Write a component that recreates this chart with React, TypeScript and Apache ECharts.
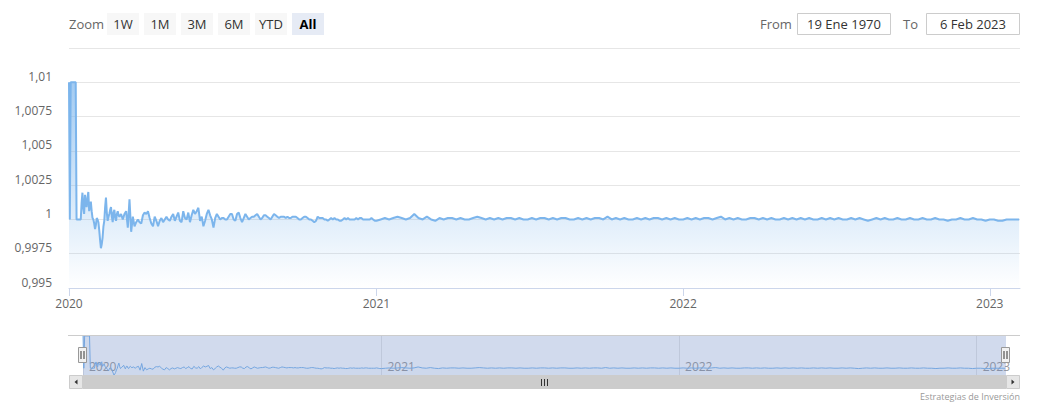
import React, { useEffect, useRef } from 'react';
import * as echarts from 'echarts';

const DAY = 86400000;
const X_MIN = Date.UTC(2020, 0, 1);
const X_MAX = Date.UTC(2023, 1, 6);

// Daily values, 1 Jan 2020 – 29 Feb 2020
const START_DAILY = Date.UTC(2020, 0, 1);
const dailyEarly2020 = [
  1.01, 1.0, 1.01, 1.01, 1.01, 1.01, 1.01, 1.01, 1.01, 1.0,
  1.0, 1.0, 1.0, 1.0, 1.0, 1.0012, 1.00195, 1.0008, 1.0004, 1.0018,
  1.0012, 1.0009, 1.0016, 1.002, 1.0006, 1.001, 1.0013, 1.0006, 1.0001, 1.0,
  0.9997, 0.9993, 0.9996, 1.0001, 1.0, 0.9998, 0.9992, 0.9985, 0.9979, 0.9982,
  0.9987, 0.9995, 0.9999, 1.0009, 1.0016, 1.0005, 0.9999, 1.0002, 1.0004, 1.0007,
  1.0009, 1.0002, 0.9998, 1.0005, 1.0007, 1.0001, 0.9999, 1.0004, 1.0006, 1.0003,
];

// Values every 2 days, 1 Mar 2020 – 30 Dec 2020
const START_TWO_DAY = Date.UTC(2020, 2, 1);
const twoDay2020 = [
  1.0002, 1.0004, 1.0, 1.0004, 1.0006, 0.9994, 1.00146, 0.9991, 1.0002, 0.9995,
  0.9998, 1.0, 0.9998, 0.9997, 1.0003, 1.0005, 1.0004, 1.0006, 1.0001, 0.9997,
  0.9995, 1.0002, 0.9999, 0.9995, 0.9999, 1.0001, 0.9998, 1.0, 1.0002, 1.0,
  0.9999, 1.0002, 1.0004, 0.9999, 1.0002, 1.0005, 0.9999, 0.9998, 1.0006, 1.0001,
  1.0, 1.0005, 0.9998, 1.0003, 1.0007, 1.0004, 1.0006, 1.00085, 0.9999, 1.0002,
  0.9995, 0.9999, 1.0004, 1.0007, 1.0003, 1.0, 0.9994, 1.0001, 1.0004, 1.0002,
  1.0, 1.0001, 1.0001, 1.0, 1.0, 1.0002, 1.0004, 1.0004, 1.0, 0.9999,
  1.0004, 1.0005, 1.0001, 0.9998, 1.0001, 1.0004, 1.0002, 1.0, 1.0001, 1.0002,
  1.0002, 1.0003, 1.0004, 1.0002, 1.0, 1.0001, 1.0003, 1.0003, 1.0002, 1.0001,
  1.0, 1.0002, 1.0004, 1.0003, 1.0002, 1.0001, 1.0002, 1.0002, 1.0002, 1.0001,
  1.0002, 1.0001, 1.0001, 1.0002, 1.0002, 1.0002, 1.0001, 1.0, 1.0, 1.0001,
  1.0002, 1.0002, 1.0001, 1.0, 1.0, 0.9999, 0.9998, 0.9999, 1.0002, 1.0001,
  1.0001, 1.0001, 1.0, 1.0, 0.9999, 1.0, 1.0001, 1.0, 1.0001, 1.0,
  1.0, 0.9999, 0.9999, 1.0, 1.0001, 1.0, 1.0001, 1.0, 1.0, 1.0,
  1.0, 1.0001, 1.0, 1.0001, 1.0001, 1.0, 1.0, 1.0, 1.0, 1.0,
  1.0001, 1.0, 0.9999,
];

// Values every 5 days, 1 Jan 2021 – 5 Feb 2023
const START_FIVE_DAY = Date.UTC(2021, 0, 1);
const fiveDay2021to2023 = [
  0.9999, 1.0, 1.0001, 1.0, 1.0001, 1.0002, 1.0001, 1.0, 1.0001, 1.0004,
  1.0001, 1.0, 1.0002, 1.0, 0.9999, 1.0001, 1.0, 1.0001, 1.0001, 1.0,
  1.0001, 1.0, 1.0, 1.0001, 1.0002, 1.0001, 1.0, 1.0001, 1.0, 1.0001,
  1.0, 1.0001, 1.0001, 1.0, 1.0001, 1.0, 1.0, 1.0001, 1.0, 1.0001,
  1.0001, 1.0, 1.0001, 1.0, 1.0001, 1.0001, 1.0, 1.0, 1.0001, 1.0,
  1.0001, 1.0, 1.0001, 1.0001, 1.0, 1.0002, 1.0, 1.0001, 1.0, 1.0001,
  1.0, 1.0, 1.0001, 1.0, 1.0001, 1.0, 1.0001, 1.0001, 1.0, 1.0001,
  1.0, 1.0001, 1.0, 1.0, 1.0001, 1.0, 1.0001, 1.0, 1.0001, 1.0001,
  1.0, 1.0001, 1.0002, 1.0, 1.0001, 1.0, 1.0001, 1.0, 1.0, 1.0001,
  1.0001, 1.0, 1.0001, 1.0, 1.0001, 1.0, 1.0, 1.0001, 1.0, 1.0001,
  1.0, 1.0001, 1.0, 1.0001, 1.0, 1.0, 1.0001, 1.0, 1.0001, 1.0,
  1.0001, 1.0, 1.0, 1.0001, 1.0, 1.0001, 1.0, 0.9999, 1.0, 1.0001,
  1.0, 1.0001, 1.0, 1.0, 1.0001, 1.0, 1.0, 1.0001, 1.0, 1.0,
  1.0001, 1.0, 1.0, 1.0001, 1.0, 1.0, 0.9999, 1.0, 1.0, 1.0001,
  1.0, 1.0, 1.0001, 1.0, 1.0, 0.9999, 1.0, 1.0, 0.9999, 0.9999,
  1.0, 1.0, 1.0, 1.0,
];

const yearTicks = [2020, 2021, 2022, 2023];
const rangeButtons = ['1W', '1M', '3M', '6M', 'YTD', 'All'];
const selectedButton = 'All';
const zoomLabel = 'Zoom';
const fromLabel = 'From';
const toLabel = 'To';
const fromDate = '19 Ene 1970';
const toDate = '6 Feb 2023';
const creditText = 'Estrategias de Inversión';

const FONT = '"Open Sans", sans-serif';
const LINE_COLOR = '#7cb5ec';

function buildPoints(): [number, number][] {
  return [
    ...dailyEarly2020.map((v, i) => [START_DAILY + i * DAY, v] as [number, number]),
    ...twoDay2020.map((v, i) => [START_TWO_DAY + i * 2 * DAY, v] as [number, number]),
    ...fiveDay2021to2023.map((v, i) => [START_FIVE_DAY + i * 5 * DAY, v] as [number, number]),
  ];
}

function fmtY(v: number): string {
  return String(parseFloat(v.toFixed(4))).replace('.', ',');
}

function buildGraphic(): any[] {
  const els: any[] = [];
  const txt = (text: string, x: number, y: number, opts: any = {}) => ({
    type: 'text',
    x,
    y,
    z: opts.z ?? 20,
    style: {
      text,
      fill: opts.fill ?? '#666666',
      font: `${opts.weight ?? 'normal'} ${opts.size ?? 13}px ${FONT}`,
      textAlign: opts.align ?? 'left',
      textVerticalAlign: 'middle',
    },
  });
  els.push(txt(zoomLabel, 69, 24));
  rangeButtons.forEach((b, i) => {
    const x = 107 + i * 37;
    const sel = b === selectedButton;
    els.push({
      type: 'rect',
      z: 20,
      shape: { x, y: 13, width: 32, height: 22 },
      style: { fill: sel ? '#e6ebf5' : '#f7f7f7' },
    });
    els.push(txt(b, x + 16, 24, { fill: sel ? '#000000' : '#333333', align: 'center', weight: sel ? 'bold' : 'normal' }));
  });
  els.push(txt(fromLabel, 760, 24));
  els.push({
    type: 'rect', z: 20,
    shape: { x: 797.5, y: 13.5, width: 93, height: 21 },
    style: { fill: '#ffffff', stroke: '#cccccc', lineWidth: 1 },
  });
  els.push(txt(fromDate, 844, 24, { fill: '#333333', align: 'center' }));
  els.push(txt(toLabel, 903, 24));
  els.push({
    type: 'rect', z: 20,
    shape: { x: 926.5, y: 13.5, width: 93, height: 21 },
    style: { fill: '#ffffff', stroke: '#cccccc', lineWidth: 1 },
  });
  els.push(txt(toDate, 973, 24, { fill: '#333333', align: 'center' }));

  // navigator outline and mask
  els.push({
    type: 'line', z: 30,
    shape: { x1: 68, y1: 335.5, x2: 1020, y2: 335.5 },
    style: { stroke: '#cccccc', lineWidth: 1 },
  });
  els.push({
    type: 'rect', z: 25,
    shape: { x: 83, y: 336, width: 923, height: 39 },
    style: { fill: 'rgba(102,133,194,0.3)' },
  });
  // handles
  [82.5, 1005.5].forEach((cx) => {
    els.push({
      type: 'rect', z: 31,
      shape: { x: cx - 4, y: 347.5, width: 8, height: 15 },
      style: { fill: '#f2f2f2', stroke: '#999999', lineWidth: 1 },
    });
    els.push({ type: 'line', z: 32, shape: { x1: cx - 1.5, y1: 351, x2: cx - 1.5, y2: 359 }, style: { stroke: '#333333', lineWidth: 1 } });
    els.push({ type: 'line', z: 32, shape: { x1: cx + 1.5, y1: 351, x2: cx + 1.5, y2: 359 }, style: { stroke: '#333333', lineWidth: 1 } });
  });
  // scrollbar
  els.push({
    type: 'rect', z: 20,
    shape: { x: 69, y: 375, width: 951, height: 14 },
    style: { fill: '#f2f2f2' },
  });
  els.push({
    type: 'rect', z: 21,
    shape: { x: 83, y: 375, width: 923, height: 14 },
    style: { fill: '#cccccc' },
  });
  [541.5, 544.5, 547.5].forEach((gx) => {
    els.push({ type: 'line', z: 22, shape: { x1: gx, y1: 379, x2: gx, y2: 386 }, style: { stroke: '#333333', lineWidth: 1 } });
  });
  els.push({
    type: 'rect', z: 22,
    shape: { x: 69.5, y: 375.5, width: 13, height: 13 },
    style: { fill: '#e6e6e6', stroke: '#cccccc', lineWidth: 1 },
  });
  els.push({
    type: 'rect', z: 22,
    shape: { x: 1006.5, y: 375.5, width: 13, height: 13 },
    style: { fill: '#e6e6e6', stroke: '#cccccc', lineWidth: 1 },
  });
  els.push({
    type: 'polygon', z: 23,
    shape: { points: [[74.5, 382], [77.5, 379.5], [77.5, 384.5]] },
    style: { fill: '#333333' },
  });
  els.push({
    type: 'polygon', z: 23,
    shape: { points: [[1014.5, 382], [1011.5, 379.5], [1011.5, 384.5]] },
    style: { fill: '#333333' },
  });
  els.push(txt(creditText, 1020, 396, { fill: '#999999', align: 'right', size: 9 }));
  return els;
}

export default function App() {
  const ref = useRef<HTMLDivElement>(null);
  useEffect(() => {
    if (!ref.current) return;
    const chart = echarts.init(ref.current, undefined, { renderer: 'svg' });
    const points = buildPoints();
    const yearValues = yearTicks.map((y) => Date.UTC(y, 0, 1));
    const yearFmt = (v: number) => String(new Date(v).getUTCFullYear());
    chart.setOption({
      animation: false,
      backgroundColor: '#ffffff',
      textStyle: { fontFamily: FONT },
      grid: [
        { left: 69, top: 48, width: 951, height: 240 },
        { left: 83, top: 336, width: 923, height: 39 },
      ],
      xAxis: [
        {
          gridIndex: 0,
          type: 'value',
          min: X_MIN,
          max: X_MAX,
          axisLine: { show: true, lineStyle: { color: '#ccd6eb', width: 1 } },
          axisTick: { show: true, length: 8, customValues: yearValues, lineStyle: { color: '#ccd6eb' } },
          axisLabel: {
            customValues: yearValues,
            formatter: yearFmt,
            color: '#666666',
            fontSize: 12,
            fontFamily: FONT,
            margin: 9,
          },
          splitLine: { show: false },
        },
        {
          gridIndex: 1,
          type: 'value',
          min: X_MIN,
          max: X_MAX,
          axisLine: { show: false },
          axisTick: { show: false, customValues: yearValues },
          axisLabel: {
            customValues: yearValues,
            formatter: yearFmt,
            inside: true,
            margin: 3,
            align: 'left',
            padding: [0, 0, 0, 6],
            color: '#999999',
            fontSize: 12,
            fontFamily: FONT,
          },
          splitLine: { show: true, lineStyle: { color: '#e6e6e6', width: 1 } },
        },
      ],
      yAxis: [
        {
          gridIndex: 0,
          type: 'value',
          min: 0.995,
          max: 1.0125,
          interval: 0.0025,
          axisLine: { show: false },
          axisTick: { show: false },
          axisLabel: {
            showMaxLabel: false,
            margin: 17,
            color: '#666666',
            fontSize: 12,
            fontFamily: FONT,
            verticalAlign: 'bottom',
            formatter: fmtY,
          },
          splitLine: { lineStyle: { color: '#e6e6e6', width: 1 } },
        },
        {
          gridIndex: 1,
          type: 'value',
          min: 'dataMin',
          max: 'dataMax',
          show: false,
          splitLine: { show: false },
        },
      ],
      series: [
        {
          type: 'line',
          xAxisIndex: 0,
          yAxisIndex: 0,
          data: points,
          showSymbol: false,
          symbol: 'none',
          lineStyle: { color: LINE_COLOR, width: 2 },
          itemStyle: { color: LINE_COLOR },
          areaStyle: {
            origin: 'start',
            color: new echarts.graphic.LinearGradient(0, 0, 0, 1, [
              { offset: 0, color: 'rgba(124,181,236,1)' },
              { offset: 1, color: 'rgba(124,181,236,0)' },
            ]),
          },
        },
        {
          type: 'line',
          xAxisIndex: 1,
          yAxisIndex: 1,
          data: points,
          showSymbol: false,
          symbol: 'none',
          lineStyle: { color: LINE_COLOR, width: 1 },
          areaStyle: { origin: 'start', color: 'rgba(124,181,236,0.05)' },
        },
      ],
      graphic: buildGraphic(),
    });
    return () => chart.dispose();
  }, []);
  return (
    <div
      ref={ref}
      style={{ position: 'absolute', left: 0, top: 0, width: 1048, height: 411 }}
    />
  );
}
